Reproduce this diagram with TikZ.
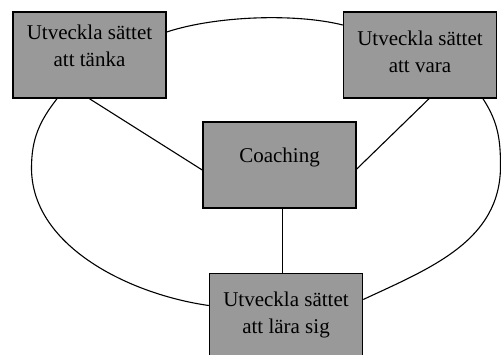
\documentclass[tikz,border=0pt]{standalone}
\usepackage{fontspec}
\setmainfont{Liberation Serif}
\usetikzlibrary{positioning}
\definecolor{boxgray}{RGB}{153,153,153}
\tikzset{%
  goal/.style = {rectangle,draw,fill=boxgray,line width=1.5pt,
        minimum width=153pt,minimum height=86pt,align=center,
        font=\fontsize{21}{27}\selectfont},
  link/.style = {line width=1.1pt}
}

\begin{document}
\begin{tikzpicture}[x=1pt,y=1pt]
  \useasboundingbox (0,0) rectangle (501,354);
  \fill[white] (0,0) rectangle (501,354);
  \clip (0,0) rectangle (501,354);

  \node[goal, text depth=20.3pt] (coach) at (279.5,189) {Coaching};
  \node[goal, text depth=18.7pt] (tanka) at (89.5,299) {Utveckla sättet\\att tänka};
  \node[goal, text depth=5.9pt] (vara) [right=176pt of tanka] {Utveckla sättet\\att vara};
  \node[goal, text depth=7.3pt] (lara) [below=64pt of coach, xshift=6.5pt] {Utveckla sättet\\att lära sig};
  \coordinate (lmid) at (31.5,186);
  \coordinate (rmid) at (500.5,188);

  \draw[link] (tanka.south) -- ([yshift=-5pt]coach.west);
  \draw[link] ([xshift=9pt]vara.south) -- ([yshift=-4pt]coach.east);
  \draw[link] ([xshift=3pt]coach.south) -- ([xshift=3pt]coach.south |- lara.north);
  \draw[link] ([yshift=23pt]tanka.east) .. controls (215,338) and (295,341) .. ([yshift=30pt]vara.west);
  \draw[link] ([xshift=-32.5pt]tanka.south) to[out=232,in=90] (lmid)
              to[out=270,in=172,looseness=0.9] ([yshift=11pt]lara.west);
  \draw[link] ([xshift=63pt]vara.south) to[out=-57,in=90] (rmid)
              to[out=-90,in=25] ([yshift=17pt]lara.east);
\end{tikzpicture}
\end{document}
